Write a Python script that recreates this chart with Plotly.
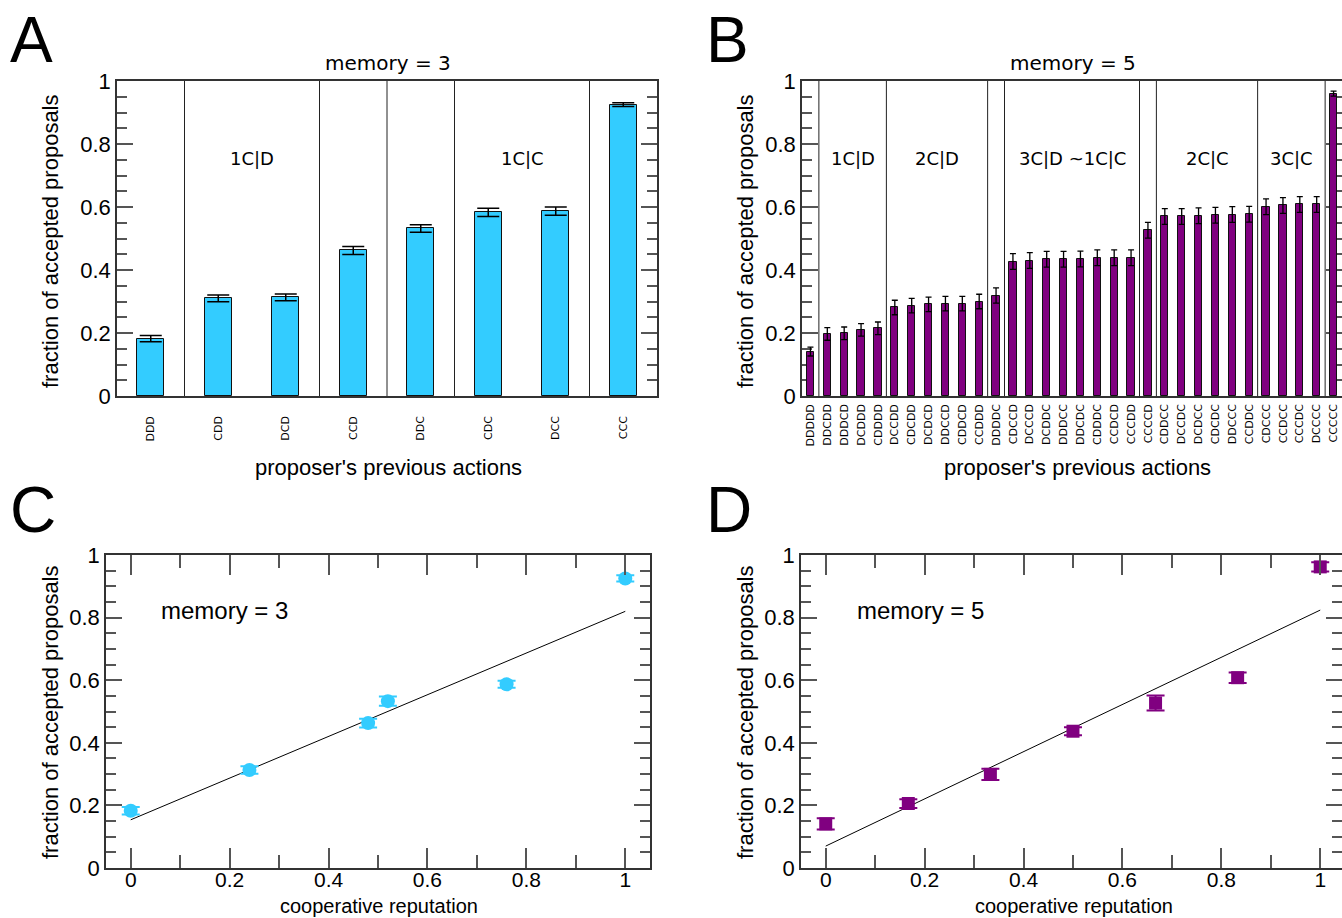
import plotly.graph_objects as go

W, H = 1342, 918

# ---------------- data ----------------
cats3 = ["DDD", "CDD", "DCD", "CCD", "DDC", "CDC", "DCC", "CCC"]
vals3 = [0.182, 0.310, 0.313, 0.462, 0.532, 0.583, 0.587, 0.925]
errs3 = [0.010, 0.011, 0.011, 0.013, 0.012, 0.013, 0.013, 0.006]

cats5 = ["DDDDD", "DDCDD", "DDDCD", "DCDDD", "CDDDD", "DCCDD", "CDCDD", "DCDCD",
         "DDCCD", "CDDCD", "CCDDD", "DDDDC", "CDCCD", "DCCCD", "DCDDC", "DDDCC",
         "DDCDC", "CDDDC", "CCDCD", "CCCDD", "CCCCD", "CDDCC", "DCCDC", "DCDCC",
         "CDCDC", "DDCCC", "CCDDC", "CDCCC", "CCDCC", "CCCDC", "DCCCC", "CCCCC"]
vals5 = [0.141, 0.197, 0.199, 0.210, 0.215, 0.281, 0.287, 0.291,
         0.293, 0.293, 0.300, 0.319, 0.427, 0.430, 0.434, 0.434,
         0.435, 0.439, 0.439, 0.439, 0.526, 0.570, 0.570, 0.572,
         0.574, 0.576, 0.577, 0.601, 0.605, 0.608, 0.608, 0.960]
errs5 = [0.014, 0.020, 0.020, 0.020, 0.020, 0.023, 0.023, 0.023,
         0.023, 0.023, 0.023, 0.024, 0.025, 0.025, 0.025, 0.025,
         0.025, 0.025, 0.025, 0.025, 0.025, 0.025, 0.025, 0.025,
         0.025, 0.025, 0.025, 0.025, 0.025, 0.025, 0.025, 0.008]

sep3 = [0.5, 2.5, 3.5, 4.5, 6.5]
grp3_text = ["1C|D", "1C|C"]
grp3_pos = [1.5, 5.5]

sep5 = [0.5, 4.5, 10.5, 11.5, 19.5, 20.5, 26.5, 30.5]
grp5_text = ["1C|D", "2C|D", "3C|D ~1C|C", "2C|C", "3C|C"]
grp5_pos = [2.5, 7.5, 15.5, 23.5, 28.5]
grp_y = 0.755

rep3 = [0.0, 0.24, 0.48, 0.52, 0.76, 1.0]
acc3 = [0.183, 0.313, 0.463, 0.533, 0.587, 0.925]
acc3_err = [0.012, 0.012, 0.014, 0.015, 0.011, 0.010]
fit3_x = [0.0, 1.0]
fit3_y = [0.154, 0.820]

rep5 = [0.0, 0.167, 0.333, 0.5, 0.667, 0.833, 1.0]
acc5 = [0.141, 0.206, 0.299, 0.437, 0.527, 0.608, 0.962]
acc5_err = [0.018, 0.014, 0.018, 0.013, 0.024, 0.017, 0.015]
fit5_x = [0.0, 1.0]
fit5_y = [0.070, 0.824]

CYAN = "#33ccff"
PURPLE = "#800080"
FRAME = "#333333"
TICK = "#555555"
SANS = "Liberation Sans, Arial, sans-serif"
DEJA = "DejaVu Sans, sans-serif"

fig = go.Figure()

fig.add_trace(go.Bar(x=cats3, y=vals3, width=0.4, marker=dict(color=CYAN, line=dict(color="#111", width=1)),
                     error_y=dict(type="data", array=errs3, color="black", thickness=1.5, width=11),
                     xaxis="x", yaxis="y", showlegend=False))
fig.add_trace(go.Bar(x=cats5, y=vals5, width=0.43, marker=dict(color=PURPLE, line=dict(color="#111", width=1)),
                     error_y=dict(type="data", array=errs5, color="black", thickness=1.3, width=3),
                     xaxis="x2", yaxis="y2", showlegend=False))
fig.add_trace(go.Scatter(x=fit3_x, y=fit3_y, mode="lines", line=dict(color="black", width=1),
                         xaxis="x3", yaxis="y3", showlegend=False))
fig.add_trace(go.Scatter(x=rep3, y=acc3, mode="markers", marker=dict(color=CYAN, size=14, symbol="circle"),
                         error_y=dict(type="data", array=acc3_err, color=CYAN, thickness=2, width=9),
                         xaxis="x3", yaxis="y3", showlegend=False))
fig.add_trace(go.Scatter(x=fit5_x, y=fit5_y, mode="lines", line=dict(color="black", width=1),
                         xaxis="x4", yaxis="y4", showlegend=False))
fig.add_trace(go.Scatter(x=rep5, y=acc5, mode="markers", marker=dict(color=PURPLE, size=13, symbol="square"),
                         error_y=dict(type="data", array=acc5_err, color=PURPLE, thickness=2, width=9),
                         xaxis="x4", yaxis="y4", showlegend=False))

def px(x):
    return x / W

def py(y):
    return 1 - y / H

top_dom = [py(396), py(81)]
bot_dom = [py(868), py(555)]

yax = dict(range=[0, 1], dtick=0.2, ticks="inside", ticklen=16, tickwidth=1.5, tickcolor=TICK,
           showline=True, linecolor=FRAME, linewidth=1.5, mirror="ticks", showgrid=False, zeroline=False,
           automargin=False, tickfont=dict(family=SANS, size=22, color="black"),
           minor=dict(dtick=0.05, ticks="inside", ticklen=10, tickwidth=1.5, tickcolor=TICK, showgrid=False))

xnum = dict(dtick=0.2, ticks="inside", ticklen=20, tickwidth=1.5, tickcolor=TICK, showline=True,
            linecolor=FRAME, linewidth=1.5, mirror="ticks", showgrid=False, zeroline=False, automargin=False,
            ticklabelstandoff=-8, tickfont=dict(family=SANS, size=21, color="black"),
            minor=dict(dtick=0.1, ticks="inside", ticklen=13, tickwidth=1.5, tickcolor=TICK, showgrid=False))

xcat = dict(type="category", showline=True, linecolor=FRAME, linewidth=1.5, mirror=True, ticks="",
            showgrid=False, tickangle=-90, automargin=False,
            tickfont=dict(family=DEJA, size=11, color="black"))

fig.update_layout(
    template="none",
    width=W, height=H, margin=dict(l=0, r=0, t=0, b=0, autoexpand=False),
    paper_bgcolor="white", plot_bgcolor="white", bargap=0,
    xaxis=dict(domain=[px(117), px(657)], range=[-0.5, 7.5], ticklabelstandoff=14, anchor="y", **xcat),
    yaxis=dict(domain=top_dom, anchor="x", **yax),
    xaxis2=dict(domain=[px(802), 1.0], range=[-0.5, 31.5], ticklabelstandoff=2, anchor="y2", **xcat),
    yaxis2=dict(domain=top_dom, anchor="x2", layer="below traces", **yax),
    xaxis3=dict(domain=[px(106), px(650)], range=[-0.05, 1.05], anchor="y3", **xnum),
    yaxis3=dict(domain=bot_dom, anchor="x3", **yax),
    xaxis4=dict(domain=[px(801), 1.0], range=[-0.05, -0.05 + 541 / 494.5], anchor="y4", **xnum),
    yaxis4=dict(domain=bot_dom, anchor="x4", **yax),
)

shapes = []
for s in sep3:
    shapes.append(dict(type="line", xref="x", yref="y domain", x0=s, x1=s, y0=0, y1=1,
                       line=dict(color="#222", width=1), layer="below"))
for s in sep5:
    shapes.append(dict(type="line", xref="x2", yref="y2 domain", x0=s, x1=s, y0=0, y1=1,
                       line=dict(color="#222", width=1), layer="below"))
fig.update_layout(shapes=shapes)

ann = []
for t, p in zip(grp3_text, grp3_pos):
    ann.append(dict(text=t, x=p, y=grp_y, xref="x", yref="y", showarrow=False,
                    font=dict(family=DEJA, size=18, color="black")))
for t, p in zip(grp5_text, grp5_pos):
    ann.append(dict(text=t, x=p, y=grp_y, xref="x2", yref="y2", showarrow=False,
                    font=dict(family=DEJA, size=18, color="black")))

def txt(text, x, y, size, family=SANS, angle=0, xanchor="center"):
    ann.append(dict(text=text, x=px(x), y=py(y), xref="paper", yref="paper", showarrow=False,
                    xanchor=xanchor, yanchor="middle", textangle=angle,
                    font=dict(family=family, size=size, color="black")))

# panel letters
txt("A", 8, 40, 64, xanchor="left")
txt("B", 704, 40, 64, xanchor="left")
txt("C", 8, 510, 64, xanchor="left")
txt("D", 704, 510, 64, xanchor="left")
# titles
txt("memory = 3", 388, 63, 20, family=DEJA)
txt("memory = 5", 1073, 63, 20, family=DEJA)
# y titles
for x in (50, 745):
    txt("fraction of accepted proposals", x, 241, 22, angle=-90)
    txt("fraction of accepted proposals", x, 712, 22, angle=-90)
# x titles
txt("proposer's previous actions", 388, 467, 22)
txt("proposer's previous actions", 1077, 467, 22)
txt("cooperative reputation", 379, 906, 20)
txt("cooperative reputation", 1074, 906, 20)
# in-panel memory labels
txt("memory = 3", 159, 610, 24, xanchor="left")
txt("memory = 5", 855, 610, 24, xanchor="left")

fig.update_layout(annotations=ann)

fig.write_html("out.html", config={"displayModeBar": False},
               post_script="document.body.style.margin='0';document.body.style.overflow='hidden';")
